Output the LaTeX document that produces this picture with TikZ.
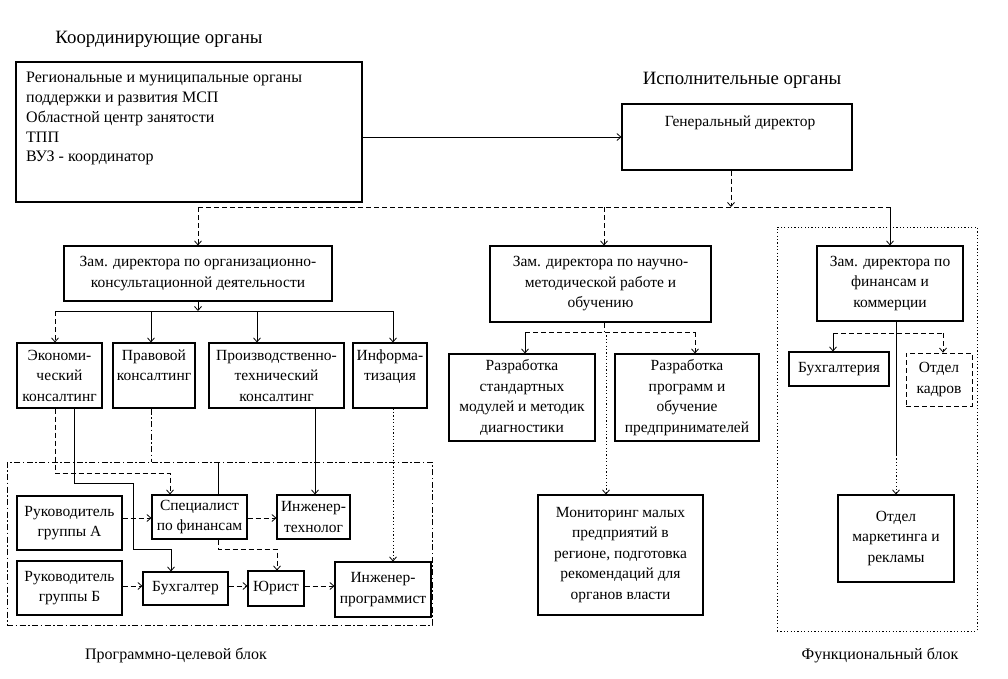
\documentclass[tikz,border=0pt]{standalone}
\usepackage{fontspec}
\setmainfont{Liberation Serif}
\usetikzlibrary{arrows.meta}
\newcommand{\fsbox}{\fontsize{15.5}{20.5}\selectfont}
\newcommand{\fscoord}{\fontsize{16}{19.8}\selectfont}
\tikzset{
  box/.style={draw, line width=1.1pt, inner sep=0pt, align=center, font=\fsbox},
  arr/.style={-{Straight Barb[length=4pt,width=7pt]}},
  ln/.style={line width=0.8pt},
  dsh/.style={ln, dash pattern=on 5pt off 3pt},
  dshdot/.style={ln, dash pattern=on 6pt off 2.5pt on 1.5pt off 2.5pt},
  dot/.style={ln, dash pattern=on 1.2pt off 2.2pt},
  title/.style={font=\fontsize{18.8}{22}\selectfont, inner sep=0pt},
  blabel/.style={font=\fontsize{16}{20}\selectfont, inner sep=0pt},
}
\begin{document}
\begin{tikzpicture}[x=1pt,y=-1pt]
\useasboundingbox (0,0) rectangle (1008,678);
% titles
\node[title] (tCoord) at (159,39) {Координирующие органы};
\node[title] (tExec) at (742,80) {Исполнительные органы};
\node[blabel] (tProg) at (176,655) {Программно-целевой блок};
\node[blabel] (tFunc) at (880,655) {Функциональный блок};
% blocks
\node[draw, dshdot, minimum width=425pt, minimum height=163pt, inner sep=0pt] (progBlock) at (219.5,543.5) {};
\node[draw, dot, minimum width=200pt, minimum height=404pt, inner sep=0pt] (funcBlock) at (877,429) {};
% coordinating box
\node[box, minimum width=346pt, minimum height=140pt] (coord) at (189,132) {};
\node[font=\fscoord, align=left, anchor=north west, inner sep=0pt] (coordText) at (26,72)
  {Региональные и муниципальные органы\\поддержки и развития МСП\\Областной центр занятости\\ТПП\\ВУЗ - координатор};
% general director
\node[box, minimum width=230pt, minimum height=66pt] (genDir) at (737,137) {};
\node[font=\fsbox, inner sep=0pt] (genDirText) at (740,123) {Генеральный директор};
% deputies
\node[box, minimum width=268pt, minimum height=55pt] (zamL) at (198,273.5) {Зам. директора по организационно-\\консультационной деятельности};
\node[box, minimum width=221pt, minimum height=76pt] (zamM) at (600.5,284) {Зам. директора по научно-\\методической работе и\\обучению};
\node[box, minimum width=146pt, minimum height=75pt] (zamR) at (890,283.5) {Зам. директора по\\финансам и\\коммерции};
% consulting row
\node[box, minimum width=85pt, minimum height=65pt] (econ) at (59.5,375.5) {Экономи-\\ческий\\консалтинг};
\node[box, minimum width=82pt, minimum height=65pt] (prav) at (154,375.5) {Правовой\\консалтинг\\\mbox{}};
\node[box, minimum width=135pt, minimum height=65pt] (proiz) at (276.5,375.5) {Производственно-\\технический\\консалтинг};
\node[box, minimum width=74pt, minimum height=65pt] (inform) at (390,375.5) {Информа-\\тизация\\\mbox{}};
% programme block
\node[box, minimum width=105pt, minimum height=54pt] (rukA) at (69.5,523) {Руководитель\\группы А};
\node[box, minimum width=95pt, minimum height=44pt] (spec) at (199.5,517) {Специалист\\по финансам};
\node[box, minimum width=73pt, minimum height=44pt] (engT) at (313.5,517) {Инженер-\\технолог};
\node[box, minimum width=105pt, minimum height=54pt] (rukB) at (69.5,588) {Руководитель\\группы Б};
\node[box, minimum width=85pt, minimum height=33pt] (bukh) at (185.5,588.5) {Бухгалтер};
\node[box, minimum width=56pt, minimum height=35pt] (jur) at (276,588.5) {Юрист};
\node[box, minimum width=96pt, minimum height=55pt] (engP) at (383,589.5) {Инженер-\\программист};
% middle column
\node[box, minimum width=146pt, minimum height=87pt] (razr1) at (522,397.5) {Разработка\\стандартных\\модулей и методик\\диагностики};
\node[box, minimum width=144pt, minimum height=87pt] (razr2) at (687,397.5) {Разработка\\программ и\\обучение\\предпринимателей};
\node[box, minimum width=165pt, minimum height=120pt] (monit) at (620.5,555) {Мониторинг малых\\предприятий в\\регионе, подготовка\\рекомендаций для\\органов власти};
% functional block
\node[box, minimum width=100pt, minimum height=34pt] (bukhR) at (839,369) {Бухгалтерия};
\node[box, dsh, line width=0.8pt, minimum width=66pt, minimum height=53pt] (kadr) at (939,379.5) {Отдел\\кадров};
\node[box, minimum width=116pt, minimum height=87pt] (market) at (896,538.5) {Отдел\\маркетинга и\\рекламы};
% bend coordinates
\coordinate (busTop) at (0,207);
\coordinate (busL) at (0,311);
% top connectors
\draw[ln, arr] (coord.east |- genDir.west) -- (genDir.west);
\draw[dsh, arr] (genDir.south -| 731,0) -- (731,207);
\draw[dsh] (zamL.north |- busTop) -- (zamR.north |- busTop);
\draw[dsh, arr] (zamL.north |- busTop) -- (zamL.north);
\draw[dsh, arr] (604,207) -- (zamM.north -| 604,0);
\draw[ln, arr] (zamR.north |- busTop) -- (zamR.north);
% left deputy
\draw[ln, arr] (zamL.south) -- (zamL.south |- busL);
\draw[ln] (55,311) -- (393,311);
\draw[dsh, arr] (55,311) -- (econ.north -| 55,0);
\draw[ln, arr] (151,311) -- (prav.north -| 151,0);
\draw[ln, arr] (257,311) -- (proiz.north -| 257,0);
\draw[ln, arr] (393,311) -- (inform.north -| 393,0);
% middle deputy
\draw[dsh] (zamM.south -| 604,0) -- (604,332);
\draw[dsh] (525,332) -- (695,332);
\draw[ln, arr] (525,332) -- (razr1.north -| 525,0);
\draw[dsh, arr] (695,332) -- (razr2.north -| 695,0);
\draw[dot, arr] (606,332) -- (monit.north -| 606,0);
% right deputy
\draw[dsh] (833,333) -- (943,333);
\draw[ln, arr] (833,333) -- (bukhR.north -| 833,0);
\draw[dsh, arr] (943,333) -- (kadr.north -| 943,0);
\draw[ln] (zamR.south -| market.north) -- (896,455);
\draw[dot, arr] (896,455) -- (market.north);
% into programme block
\draw[dsh, arr] (econ.south -| 55,0) |- (170,473) -- (spec.north -| 170,0);
\draw[ln, arr] (econ.south -| 74,0) |- (133,483) |- (171,549) -- (bukh.north -| 171,0);
\draw[dshdot] (prav.south -| 151,0) -- (151,462);
\draw[ln] (218,462) -- (spec.north -| 218,0);
\draw[ln, arr] (proiz.south -| 315,0) -- (engT.north -| 315,0);
\draw[dot, arr] (inform.south -| 393,0) -- (engP.north -| 393,0);
% inside programme block
\draw[dsh, arr] (rukA.east |- 0,518) -- (spec.west |- 0,518);
\draw[dsh, arr] (spec.east |- 0,518) -- (engT.west |- 0,518);
\draw[dsh, arr] (spec.south -| 218,0) |- (277,549) -- (jur.north -| 277,0);
\draw[dsh, arr] (rukB.east |- 0,586) -- (bukh.west |- 0,586);
\draw[dsh, arr] (bukh.east |- 0,586) -- (jur.west |- 0,586);
\draw[dsh, arr] (jur.east |- 0,586) -- (engP.west |- 0,586);
\end{tikzpicture}
\end{document}
